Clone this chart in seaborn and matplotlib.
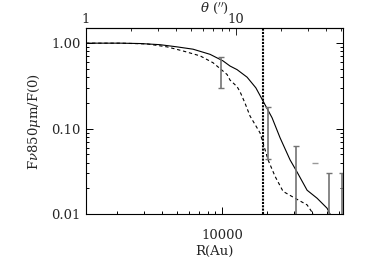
import numpy as np
import pandas as pd
import matplotlib
matplotlib.use("Agg")
import matplotlib.pyplot as plt
import seaborn as sns
from matplotlib.ticker import FixedLocator, FormatStrFormatter, NullFormatter, FixedFormatter

# ---- data ----
R_solid = [1240, 2090, 2840, 3860, 5010, 6410, 8320, 10150, 11300, 12590,
           14680, 16800, 18760, 21540, 24360, 28400, 31620, 36870, 43000,
           50100, 54100]
F_solid = [1.0, 1.0, 0.99, 0.96, 0.905, 0.85, 0.74, 0.62, 0.54, 0.49,
           0.40, 0.30, 0.21, 0.134, 0.078, 0.043, 0.031, 0.019, 0.0153,
           0.0117, 0.009]

R_dash = [1240, 2100, 3160, 4300, 5500, 7140, 8710, 10800, 11300, 12590,
          13180, 14200, 15370, 17920, 20260, 22560, 25510, 30670, 36870,
          41690]
F_dash = [1.0, 1.0, 0.98, 0.905, 0.81, 0.71, 0.59, 0.43, 0.37, 0.31,
          0.27, 0.20, 0.14, 0.089, 0.043, 0.0276, 0.0184, 0.0153, 0.0128,
          0.0093]

R_err = [9900, 20260, 31100, 51700, 63100]
F_err_lo = [0.30, 0.044, 0.005, 0.005, 0.005]
F_err_hi = [0.69, 0.177, 0.062, 0.030, 0.030]

R_mark = [41700]
F_mark = [0.040]

R_beam = 18770
DIST = 1240.0  # R(Au) = DIST * theta('')

x_ticks = [10000]
theta_ticks = [1, 10]
y_ticks = [0.01, 0.10, 1.00]

# ---- style ----
sns.set_style("ticks")
plt.rcParams["font.family"] = ["DejaVu Serif"]
plt.rcParams["mathtext.fontset"] = "dejavuserif"
plt.rcParams["font.size"] = 9.5

fig = plt.figure(figsize=(3.7, 2.73), dpi=100)
ax = fig.add_axes([0.2324, 0.216, 0.695, 0.681])

df_s = pd.DataFrame({"R": R_solid, "F": F_solid})
df_d = pd.DataFrame({"R": R_dash, "F": F_dash})
sns.lineplot(data=df_s, x="R", y="F", ax=ax, color="black", linewidth=0.8)
sns.lineplot(data=df_d, x="R", y="F", ax=ax, color="black", linewidth=0.8,
             linestyle=(0, (3, 2.5)))

mid = [(a + b) / 2 for a, b in zip(F_err_lo, F_err_hi)]
yerr = [[m - a for m, a in zip(mid, F_err_lo)], [b - m for m, b in zip(mid, F_err_hi)]]
ax.errorbar(R_err, mid, yerr=yerr, fmt="none", ecolor="0.45", elinewidth=1.2,
            capsize=2, capthick=1.0)
ax.plot(R_mark, F_mark, linestyle="none", marker="_", color="0.6", markersize=5)

ax.axvline(R_beam, color="black", linestyle=(0, (1, 0.6)), linewidth=1.5)

ax.set_xscale("log")
ax.set_yscale("log")
ax.set_xlim(1240, 64100)
ax.set_ylim(0.01, 1.5)

ax.xaxis.set_major_locator(FixedLocator(x_ticks))
ax.xaxis.set_major_formatter(FormatStrFormatter("%d"))
ax.xaxis.set_minor_locator(FixedLocator([2000, 3000, 4000, 5000, 6000, 7000, 8000, 9000,
                                         20000, 30000, 40000, 50000, 60000]))
ax.xaxis.set_minor_formatter(NullFormatter())

ax.yaxis.set_major_locator(FixedLocator(y_ticks))
ax.yaxis.set_major_formatter(FormatStrFormatter("%.2f"))
ax.yaxis.set_minor_locator(FixedLocator([k * 0.01 for k in range(2, 10)] +
                                        [k * 0.1 for k in range(2, 10)]))
ax.yaxis.set_minor_formatter(NullFormatter())

ax.tick_params(axis="both", which="both", direction="in", color="black", width=0.7)
ax.tick_params(axis="y", which="both", right=True, left=True)
ax.tick_params(axis="x", which="major", length=5, pad=11)
ax.tick_params(axis="x", which="minor", length=2.5)
ax.tick_params(axis="y", which="major", length=5, pad=4)
ax.tick_params(axis="y", which="minor", length=2.5)

for s in ax.spines.values():
    s.set_linewidth(0.8)
    s.set_color("black")

secax = ax.secondary_xaxis("top", functions=(lambda r: r / DIST, lambda t: t * DIST))
secax.xaxis.set_major_locator(FixedLocator(theta_ticks))
secax.xaxis.set_major_formatter(FixedFormatter(["1", "10"]))
secax.xaxis.set_minor_locator(FixedLocator([2, 3, 4, 5, 6, 7, 8, 9, 20, 30, 40, 50]))
secax.xaxis.set_minor_formatter(NullFormatter())
secax.tick_params(axis="x", which="major", direction="in", length=5, pad=1.5, width=0.7)
secax.tick_params(axis="x", which="minor", direction="in", length=2.5, width=0.7)
secax.set_xlabel(r"$\theta$ ($''$)", labelpad=1)

ax.set_xlabel("R(Au)", labelpad=2)
ax.set_ylabel(r"F$\nu$850$\mu$m/F(0)", labelpad=6)

fig.savefig("out.png", dpi=100)
